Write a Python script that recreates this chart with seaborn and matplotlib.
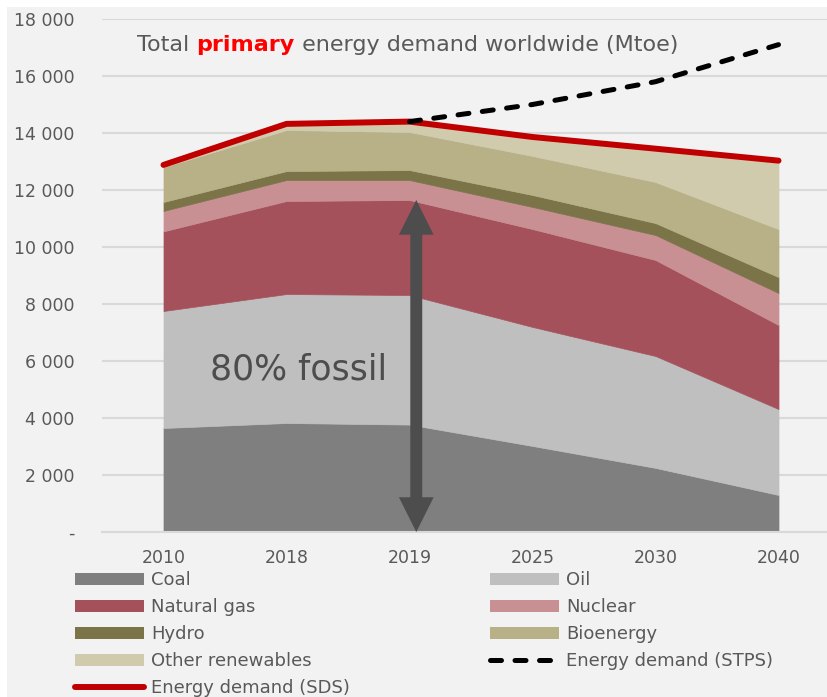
import numpy as np
import pandas as pd
import matplotlib
matplotlib.use("Agg")
import matplotlib.pyplot as plt
from matplotlib.patches import Rectangle, Patch
from matplotlib.lines import Line2D
from matplotlib.ticker import FuncFormatter
import seaborn as sns

# Primary energy demand by source (Mtoe), Sustainable Development Scenario
years = ["2010", "2018", "2019", "2025", "2030", "2040"]
coal = [3650, 3825, 3770, 3020, 2250, 1300]
oil = [4105, 4525, 4545, 4175, 3925, 3015]
natural_gas = [2795, 3265, 3335, 3435, 3370, 2950]
nuclear = [715, 735, 700, 775, 875, 1120]
hydro = [315, 315, 350, 420, 420, 560]
bioenergy = [1220, 1440, 1335, 1370, 1440, 1685]
other_renewables = [80, 215, 365, 665, 1170, 2400]

# Total demand in both scenarios
demand_sds = [12880, 14320, 14400, 13860, 13450, 13030]
demand_stps = [np.nan, np.nan, 14400, 15000, 15800, 17100]

fossil_top_2019 = 11650  # coal + oil + gas in 2019

BG = "#F2F2F2"
GRID = "#D9D9D9"
TXT = "#595959"
RED_LINE = "#C00000"
RED_TEXT = "#FF0000"
ARROW = "#4D4D4D"
colors = ["#7F7F7F", "#BFBFBF", "#A5515C", "#C99094", "#7B7449", "#B8B087", "#D1CBAE"]
labels = ["Coal", "Oil", "Natural gas", "Nuclear", "Hydro", "Bioenergy", "Other renewables"]

sns.set_theme(style="white")
plt.rcParams["font.family"] = ["DejaVu Sans"]

W, H = 827, 697
fig = plt.figure(figsize=(W / 100, H / 100), dpi=100, facecolor="white")
fig.patches.append(Rectangle((7 / W, 0), 1, 1 - 7 / H, transform=fig.transFigure,
                             facecolor=BG, edgecolor="none", zorder=-10))

ax = fig.add_axes([102 / W, 1 - 532 / H, 738 / W, 513 / H])
ax.set_facecolor("none")

x = np.arange(len(years))
series = [coal, oil, natural_gas, nuclear, hydro, bioenergy, other_renewables]
polys = ax.stackplot(x, *series, colors=colors, zorder=2)
for p, c in zip(polys, colors):
    p.set_edgecolor(c)
    p.set_linewidth(0.5)

df = pd.DataFrame({"x": x, "sds": demand_sds, "stps": demand_stps})
sns.lineplot(data=df, x="x", y="sds", ax=ax, color=RED_LINE, lw=4.3,
             solid_capstyle="round", zorder=5)
sns.lineplot(data=df.dropna(subset=["stps"]), x="x", y="stps", ax=ax, color="black",
             lw=3.6, zorder=6)
stps_line = ax.lines[-1]
stps_line.set_dashes((2.2, 2.7))
stps_line.set_dash_capstyle("round")

ax.set_xlim(-0.5, 5.5)
ax.set_ylim(0, 18000)
ax.set_xlabel("")
ax.set_ylabel("")

ax.set_xticks(x)
ax.set_xticklabels(years)
ax.set_xticks(np.arange(-0.5, 6, 1), minor=True)
ax.tick_params(axis="x", which="major", length=0, pad=12, labelsize=12.5, labelcolor=TXT)
ax.tick_params(axis="x", which="minor", length=5, width=1.2, color=GRID, direction="out")

ax.set_yticks(range(0, 18001, 2000))
ax.yaxis.set_major_formatter(FuncFormatter(lambda v, _: "-" if v == 0 else f"{int(v):,}".replace(",", " ")))
ax.tick_params(axis="y", length=0, pad=20, labelsize=12.5, labelcolor=TXT)
ax.grid(axis="y", color=GRID, lw=1.5)
ax.set_axisbelow(True)
for side in ["top", "right", "left"]:
    ax.spines[side].set_visible(False)
ax.spines["bottom"].set_color(GRID)
ax.spines["bottom"].set_linewidth(1.5)

# Double-headed arrow spanning the fossil share in 2019
ax_x = 2.055
style = "simple,head_length=25,head_width=25,tail_width=8.6"
for end in (fossil_top_2019, 0):
    ax.annotate("", xy=(ax_x, end), xytext=(ax_x, fossil_top_2019 / 2),
                arrowprops=dict(arrowstyle=style, mutation_scale=1, color=ARROW,
                                shrinkA=0, shrinkB=0, lw=0), zorder=7)

ax.text(1.1, 5700, "80% fossil", ha="center", va="center", fontsize=25, color="#4D4D4D", zorder=8)

# Title with highlighted word
t1 = fig.text(137 / W, 1 - 55 / H, "Total ", fontsize=16, color=TXT, ha="left", va="bottom")
t2 = ax.annotate("primary", xy=(1, 0), xycoords=t1, ha="left", va="bottom",
                 fontsize=16, fontweight="bold", color=RED_TEXT)
ax.annotate(" energy demand worldwide (Mtoe)", xy=(1, 0), xycoords=t2, ha="left",
            va="bottom", fontsize=16, color=TXT)

# Legend in two columns
patch = {lab: Patch(facecolor=c, edgecolor="none", label=lab) for lab, c in zip(labels, colors)}
sds_h = Line2D([], [], color=RED_LINE, lw=4.3, solid_capstyle="round", label="Energy demand (SDS)")
stps_h = Line2D([], [], color="black", lw=3.6, linestyle=(0, (2.2, 2.7)),
                dash_capstyle="round", label="Energy demand (STPS)")

common = dict(loc="upper left", frameon=False, borderpad=0, borderaxespad=0,
              handlelength=3.8, handleheight=0.65, handletextpad=0.4, labelspacing=0.5,
              fontsize=13, labelcolor=TXT)
fig.legend(handles=[patch["Coal"], patch["Natural gas"], patch["Hydro"],
                    patch["Other renewables"], sds_h],
           bbox_to_anchor=(75 / W, 1 - 571 / H), **common)
fig.legend(handles=[patch["Oil"], patch["Nuclear"], patch["Bioenergy"], stps_h],
           bbox_to_anchor=(490 / W, 1 - 571 / H), **common)

fig.savefig("out.png", dpi=100)
